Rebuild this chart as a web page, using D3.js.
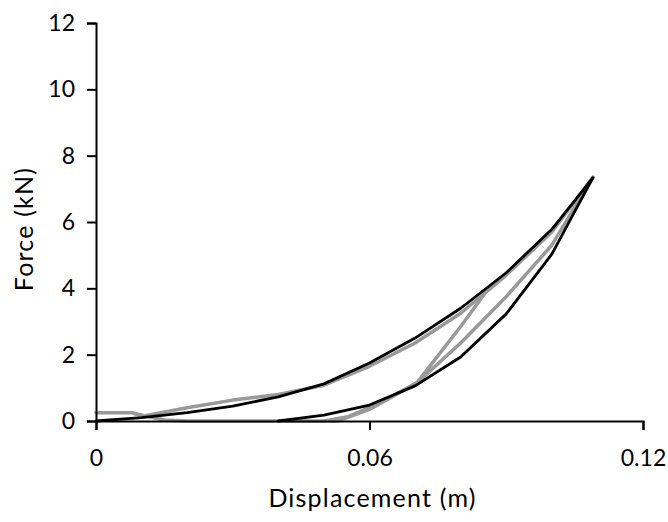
<!DOCTYPE html>
<html>
<head>
<meta charset="utf-8">
<script src="https://cdn.jsdelivr.net/npm/d3@7"></script>
<style>
  body { margin: 0; background: #fff; }
  text { font-family: Lato, "Noto Sans", sans-serif; fill: #000; }
</style>
</head>
<body>
<div id="chart"></div>
<script>
// DATA (displacement in m, force in kN)
const xTicks = [0, 0.06, 0.12];
const yTicks = [0, 2, 4, 6, 8, 10, 12];

const blackUpperX = [0, 0.01, 0.02, 0.03, 0.04, 0.05, 0.06, 0.07, 0.08, 0.09, 0.1, 0.109];
const blackUpperY = [0, 0.1, 0.25, 0.45, 0.73, 1.12, 1.75, 2.5, 3.4, 4.47, 5.78, 7.33];

const blackLowerX = [0.04, 0.05, 0.06, 0.07, 0.08, 0.09, 0.1, 0.109];
const blackLowerY = [0, 0.18, 0.48, 1.06, 1.93, 3.23, 5.03, 7.33];

const grayUpperX = [0, 0.008, 0.0105, 0.02, 0.03, 0.04, 0.05, 0.06, 0.07, 0.08, 0.0855, 0.09, 0.1, 0.109];
const grayUpperY = [0.25, 0.25, 0.15, 0.4, 0.63, 0.8, 1.08, 1.65, 2.35, 3.25, 3.88, 4.4, 5.7, 7.35];

const grayInnerX = [0.0855, 0.08, 0.0704, 0.065, 0.06, 0.055, 0.05];
const grayInnerY = [3.88, 2.85, 1.15, 0.75, 0.4, 0.12, 0];

const grayLowerX = [0.0085, 0.015, 0.02, 0.053, 0.06, 0.0704, 0.08, 0.09, 0.1, 0.109];
const grayLowerY = [0.22, 0.03, 0, 0, 0.35, 1.15, 2.35, 3.75, 5.3, 7.35];

// SETTINGS
const width = 668, height = 522;
const plot = { left: 96, right: 643, top: 23, bottom: 421 };

const svg = d3.select('#chart').append('svg')
    .attr('width', width)
    .attr('height', height);

const x = d3.scaleLinear().domain([0, 0.12]).range([plot.left, plot.right]);
const y = d3.scaleLinear().domain([0, 12]).range([plot.bottom, plot.top]);

const line = d3.line()
    .x(d => x(d[0]))
    .y(d => y(d[1]));

const zip = (xs, ys) => xs.map((v, i) => [v, ys[i]]);

// curves, gray under black
const series = [
    { pts: zip(grayLowerX, grayLowerY), color: '#999999', w: 3.5 },
    { pts: zip(grayInnerX, grayInnerY), color: '#999999', w: 3.5 },
    { pts: zip(grayUpperX, grayUpperY), color: '#999999', w: 3.5 },
    { pts: zip(blackLowerX, blackLowerY), color: '#000', w: 2.8 },
    { pts: zip(blackUpperX, blackUpperY), color: '#000', w: 2.8 }
];

svg.append('g').selectAll('path')
    .data(series)
    .enter().append('path')
    .attr('d', d => line(d.pts))
    .attr('fill', 'none')
    .attr('stroke', d => d.color)
    .attr('stroke-width', d => d.w)
    .attr('stroke-linejoin', 'round')
    .attr('stroke-linecap', 'round');

// axes
const xAxis = svg.append('g')
    .attr('transform', `translate(0, ${plot.bottom})`)
    .call(d3.axisBottom(x).tickValues(xTicks).tickFormat(d3.format('')).tickSize(9).tickPadding(20));

const yAxis = svg.append('g')
    .attr('transform', `translate(${plot.left}, 0)`)
    .call(d3.axisLeft(y).tickValues(yTicks).tickSize(9).tickPadding(12));

[xAxis, yAxis].forEach(g => {
    g.select('.domain').attr('stroke', '#000').attr('stroke-width', 2);
    g.selectAll('.tick line').attr('stroke', '#000').attr('stroke-width', 2);
    g.selectAll('.tick text')
        .attr('font-size', 23)
        .attr('font-family', 'Lato, "Noto Sans", sans-serif')
        .attr('fill', '#000');
});

// axis titles
svg.append('text')
    .attr('x', (plot.left + plot.right) / 2 + 3)
    .attr('y', 507)
    .attr('text-anchor', 'middle')
    .attr('font-size', 25)
    .attr('letter-spacing', 1.2)
    .text('Displacement (m)');

svg.append('text')
    .attr('transform', `translate(33, 229) rotate(-90)`)
    .attr('text-anchor', 'middle')
    .attr('font-size', 25)
    .attr('letter-spacing', 1.2)
    .text('Force (kN)');
</script>
</body>
</html>
